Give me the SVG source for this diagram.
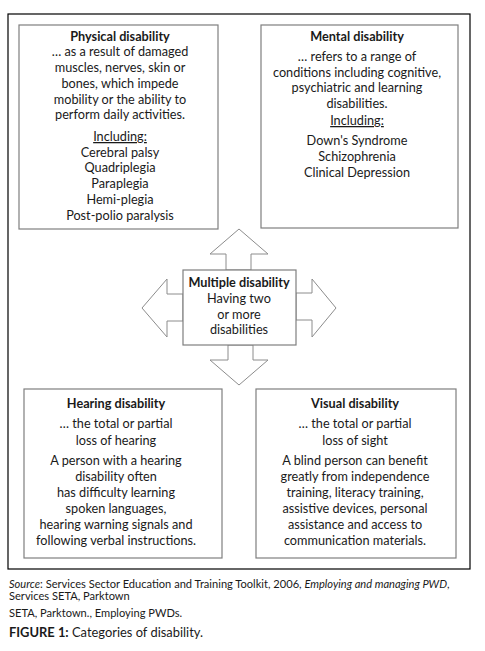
<svg xmlns="http://www.w3.org/2000/svg" width="485" height="651" viewBox="0 0 485 651">
<style>
.frame{fill:#fff;stroke:#000;stroke-width:1.2}
.box{fill:#fff;stroke:#7f7f7f;stroke-width:1.2}
.arr{fill:#fff;stroke:#8c8c8c;stroke-width:1}
text{font-family:Lato,"Liberation Sans",sans-serif;font-size:12.7px;fill:#1a1a1a;text-anchor:middle}
.b{font-weight:bold}
.u{text-decoration:underline}
.cap{text-anchor:start;font-size:11.1px}
.fig{text-anchor:start;font-size:12.9px}
</style>
<rect width="485" height="651" fill="#fff"/>
<rect class="frame" x="8" y="14" width="462" height="555"/>
<g id="connectors">
<polygon class="arr" points="226,270 226,254 210,254 239,229 268,254 251,254 251,270"/>
<polygon class="arr" points="183,294 167,294 167,279 142,308 167,337 167,321 183,321"/>
<polygon class="arr" points="296,293 312,293 312,279 336,308 312,337 312,320 296,320"/>
<polygon class="arr" points="228,345 228,360 210,360 239,385 268,360 253,360 253,345"/>
</g>
<g id="physical">
<rect class="box" x="19" y="25" width="199" height="204"/>
<text x="120" y="41" class="b">Physical disability</text>
<text x="120" y="56">… as a result of damaged</text>
<text x="120" y="72">muscles, nerves, skin or</text>
<text x="120" y="88">bones, which impede</text>
<text x="120" y="104">mobility or the ability to</text>
<text x="120" y="119">perform daily activities.</text>
<text x="120" y="141" class="u">Including:</text>
<text x="120" y="157">Cerebral palsy</text>
<text x="120" y="172">Quadriplegia</text>
<text x="120" y="188">Paraplegia</text>
<text x="120" y="204">Hemi-plegia</text>
<text x="120" y="220">Post-polio paralysis</text>
</g>
<g id="mental">
<rect class="box" x="261" y="25" width="197" height="203"/>
<text x="357" y="41" class="b">Mental disability</text>
<text x="357" y="61">… refers to a range of</text>
<text x="357" y="77">conditions including cognitive,</text>
<text x="357" y="92">psychiatric and learning</text>
<text x="357" y="108">disabilities.</text>
<text x="357" y="125" class="u">Including:</text>
<text x="357" y="145">Down's Syndrome</text>
<text x="357" y="161">Schizophrenia</text>
<text x="357" y="177">Clinical Depression</text>
</g>
<g id="multiple">
<rect class="box" x="183" y="270" width="113" height="75"/>
<text x="239" y="287" class="b">Multiple disability</text>
<text x="239" y="303">Having two</text>
<text x="239" y="319">or more</text>
<text x="239" y="334">disabilities</text>
</g>
<g id="hearing">
<rect class="box" x="24" y="389" width="198" height="169"/>
<text x="116" y="408" class="b">Hearing disability</text>
<text x="116" y="428">… the total or partial</text>
<text x="116" y="445">loss of hearing</text>
<text x="116" y="465">A person with a hearing</text>
<text x="116" y="481">disability often</text>
<text x="116" y="497">has difficulty learning</text>
<text x="116" y="513">spoken languages,</text>
<text x="116" y="529">hearing warning signals and</text>
<text x="116" y="545">following verbal instructions.</text>
</g>
<g id="visual">
<rect class="box" x="256" y="389" width="200" height="169"/>
<text x="355" y="408" class="b">Visual disability</text>
<text x="355" y="428">… the total or partial</text>
<text x="355" y="445">loss of sight</text>
<text x="355" y="465">A blind person can benefit</text>
<text x="355" y="481">greatly from independence</text>
<text x="355" y="497">training, literacy training,</text>
<text x="355" y="513">assistive devices, personal</text>
<text x="355" y="529">assistance and access to</text>
<text x="355" y="545">communication materials.</text>
</g>
<g id="caption">
<text x="9" y="588" class="cap"><tspan font-style="italic">Source</tspan>: Services Sector Education and Training Toolkit, 2006, <tspan font-style="italic">Employing and managing PWD</tspan>,</text>
<text x="9" y="600" class="cap">Services SETA, Parktown</text>
<text x="9" y="617" class="cap">SETA, Parktown., Employing PWDs.</text>
<text x="9" y="637" class="fig"><tspan font-weight="bold">FIGURE 1:</tspan> Categories of disability.</text>
</g>
</svg>
